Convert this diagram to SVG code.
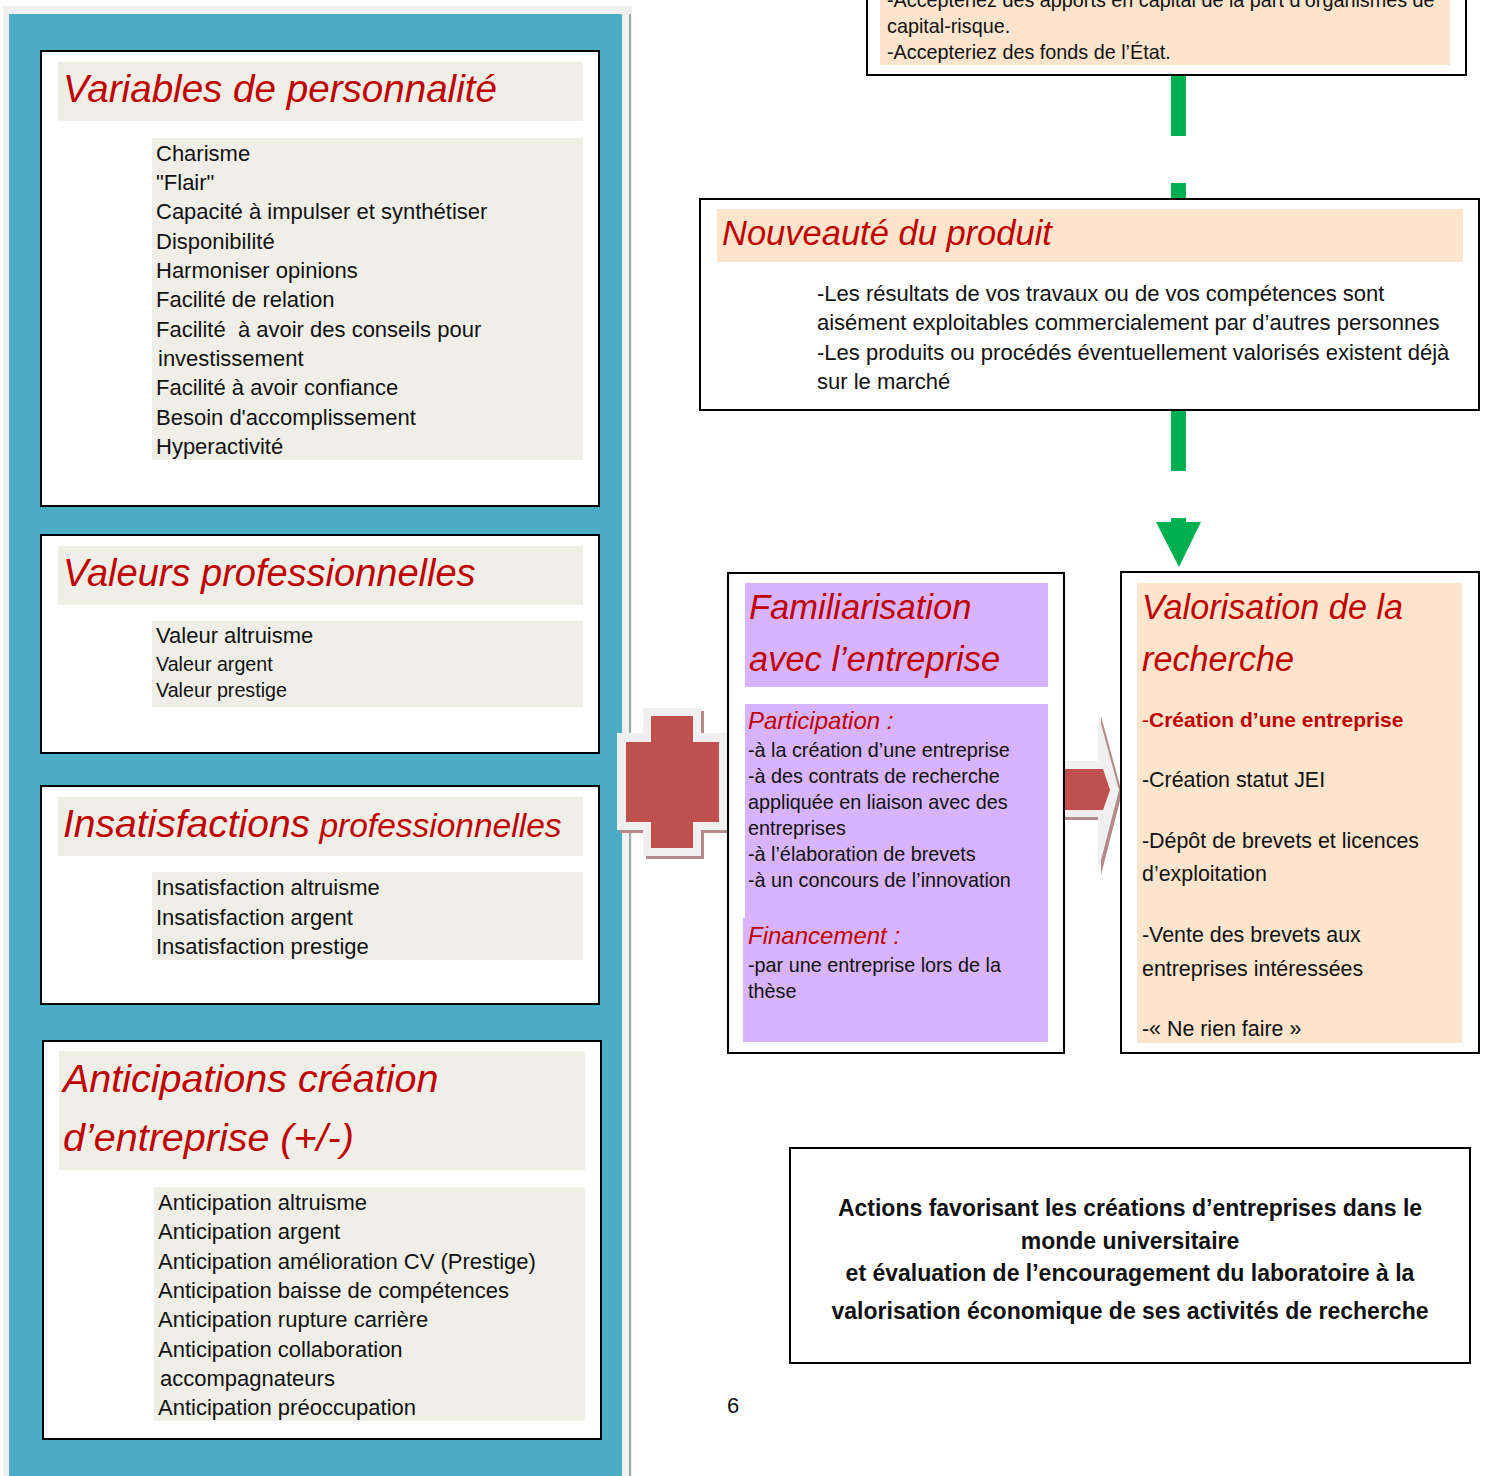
<svg xmlns="http://www.w3.org/2000/svg" width="1485" height="1476" viewBox="0 0 1485 1476">
<style>
.box{fill:#fff;stroke:#000;stroke-width:2}
.tbg{fill:#f0efe7}
.peach{fill:#fde4cc}
.purple{fill:#d7b4fd}
.ttl{font-family:"Liberation Sans",Arial,sans-serif;font-style:italic;fill:#c00000}
.txt{font-family:"Liberation Sans",Arial,sans-serif;fill:#111;font-size:22px}
.bold{font-family:"Liberation Sans",Arial,sans-serif;font-weight:bold;fill:#111;font-size:23px}
.green{fill:#00b050}
</style>
<rect width="1485" height="1476" fill="#fff"/>
<rect x="3" y="6" width="629" height="1470" fill="#f0f0f0"/>
<rect x="9" y="14" width="613" height="1462" fill="#4bacc6"/>
<rect x="629" y="14" width="2" height="1462" fill="#9aa6a8"/>

<g id="variables">
<rect class="box" x="41" y="51" width="558" height="455"/>
<rect class="tbg" x="58" y="62" width="525" height="59"/>
<text class="ttl" x="63" y="102" font-size="38.6">Variables de personnalité</text>
<rect class="tbg" x="152" y="138" width="431" height="322"/>
<text class="txt" x="156" y="161">Charisme</text>
<text class="txt" x="156" y="190">"Flair"</text>
<text class="txt" x="156" y="219">Capacité à impulser et synthétiser</text>
<text class="txt" x="156" y="249">Disponibilité</text>
<text class="txt" x="156" y="278">Harmoniser opinions</text>
<text class="txt" x="156" y="307">Facilité de relation</text>
<text class="txt" x="156" y="337" xml:space="preserve">Facilité  à avoir des conseils pour</text>
<text class="txt" x="158" y="366">investissement</text>
<text class="txt" x="156" y="395">Facilité à avoir confiance</text>
<text class="txt" x="156" y="425">Besoin d'accomplissement</text>
<text class="txt" x="156" y="454">Hyperactivité</text>
</g>

<g id="valeurs">
<rect class="box" x="41" y="535" width="558" height="218"/>
<rect class="tbg" x="58" y="546" width="525" height="59"/>
<text class="ttl" x="63" y="586" font-size="38">Valeurs professionnelles</text>
<rect class="tbg" x="152" y="621" width="431" height="86"/>
<text class="txt" x="156" y="643" font-size="22">Valeur altruisme</text>
<text class="txt" x="156" y="671" style="font-size:19.7px">Valeur argent</text>
<text class="txt" x="156" y="697" style="font-size:19.7px">Valeur prestige</text>
</g>

<g id="insatisfactions">
<rect class="box" x="41" y="786" width="558" height="218"/>
<rect class="tbg" x="58" y="797" width="525" height="59"/>
<text class="ttl" x="63" y="837"><tspan font-size="39">Insatisfactions</tspan><tspan font-size="33.5"> professionnelles</tspan></text>
<rect class="tbg" x="152" y="872" width="431" height="88"/>
<text class="txt" x="156" y="895">Insatisfaction altruisme</text>
<text class="txt" x="156" y="925">Insatisfaction argent</text>
<text class="txt" x="156" y="954">Insatisfaction prestige</text>
</g>

<g id="anticipations">
<rect class="box" x="43" y="1041" width="558" height="398"/>
<rect class="tbg" x="59" y="1051" width="526" height="119"/>
<text class="ttl" x="63" y="1092" font-size="39.5">Anticipations création</text>
<text class="ttl" x="63" y="1151" font-size="39.5">d’entreprise (+/-)</text>
<rect class="tbg" x="154" y="1187" width="431" height="234"/>
<text class="txt" x="158" y="1210">Anticipation altruisme</text>
<text class="txt" x="158" y="1239">Anticipation argent</text>
<text class="txt" x="158" y="1269">Anticipation amélioration CV (Prestige)</text>
<text class="txt" x="158" y="1298">Anticipation baisse de compétences</text>
<text class="txt" x="158" y="1327">Anticipation rupture carrière</text>
<text class="txt" x="158" y="1357">Anticipation collaboration</text>
<text class="txt" x="160" y="1386">accompagnateurs</text>
<text class="txt" x="158" y="1415">Anticipation préoccupation</text>
</g>

<g id="connectors">
<rect class="green" x="1171" y="75" width="15" height="61"/>
<rect class="green" x="1171" y="183" width="15" height="16"/>
<rect class="green" x="1171" y="410" width="15" height="61"/>
<path class="green" d="M1171 518 H1186 V522 H1201 L1179 567 L1156 522 H1171 Z"/>
<g id="plus">
<path d="M646 711 H704 V736 H730 V833 H704 V859 H646 V833 H620 V736 H646 Z" fill="#b48a8a"/>
<path d="M643 708 H701 V733 H727 V830 H701 V856 H643 V830 H617 V733 H643 Z" fill="#f0f0f0"/>
<path d="M651 716 H693 V742 H719 V822 H693 V848 H651 V822 H626 V742 H651 Z" fill="#c0504d"/>
</g>
<g id="arrow">
<path d="M1057 764 H1101 V716 L1122 793 L1101 875 V820 H1057 Z" fill="#b48a8a"/>
<path d="M1055 761 H1098 V713 L1119 790 L1098 872 V817 H1055 Z" fill="#f0f0f0"/>
<path d="M1063 769 H1103 L1110 790 L1103 810 H1063 Z" fill="#c0504d"/>
</g>
</g>

<g id="capital">
<rect class="box" x="867" y="-10" width="599" height="85"/>
<rect class="peach" x="880" y="-5" width="570" height="70"/>
<text class="txt" x="887" y="7" style="font-size:19.8px">-Accepteriez des apports en capital de la part d’organismes de</text>
<text class="txt" x="887" y="33" style="font-size:19.8px">capital-risque.</text>
<text class="txt" x="887" y="59" style="font-size:19.8px">-Accepteriez des fonds de l’État.</text>
</g>

<g id="nouveaute">
<rect class="box" x="700" y="199" width="779" height="211"/>
<rect class="peach" x="717" y="209" width="746" height="53"/>
<text class="ttl" x="722" y="245" font-size="34.5">Nouveauté du produit</text>
<text class="txt" x="817" y="301">-Les résultats de vos travaux ou de vos compétences sont</text>
<text class="txt" x="817" y="330">aisément exploitables commercialement par d’autres personnes</text>
<text class="txt" x="817" y="360">-Les produits ou procédés éventuellement valorisés existent déjà</text>
<text class="txt" x="817" y="389">sur le marché</text>
</g>

<g id="familiarisation">
<rect class="box" x="728" y="573" width="336" height="480"/>
<rect class="purple" x="745" y="583" width="303" height="104"/>
<text class="ttl" x="749" y="619" font-size="34.5">Familiarisation</text>
<text class="ttl" x="749" y="671" font-size="34.5">avec l’entreprise</text>
<rect class="purple" x="745" y="704" width="303" height="215"/>
<rect class="purple" x="743" y="918" width="305" height="124"/>
<text class="ttl" x="748" y="729" font-size="24">Participation :</text>
<text class="txt" x="748" y="757" style="font-size:19.8px">-à la création d’une entreprise</text>
<text class="txt" x="748" y="783" style="font-size:19.8px">-à des contrats de recherche</text>
<text class="txt" x="748" y="809" style="font-size:19.8px">appliquée en liaison avec des</text>
<text class="txt" x="748" y="835" style="font-size:19.8px">entreprises</text>
<text class="txt" x="748" y="861" style="font-size:19.8px">-à l’élaboration de brevets</text>
<text class="txt" x="748" y="887" style="font-size:19.8px">-à un concours de l’innovation</text>
<text class="ttl" x="748" y="944" font-size="24">Financement :</text>
<text class="txt" x="748" y="972" style="font-size:19.8px">-par une entreprise lors de la</text>
<text class="txt" x="748" y="998" style="font-size:19.8px">thèse</text>
</g>

<g id="valorisation">
<rect class="box" x="1121" y="572" width="358" height="481"/>
<rect class="peach" x="1137" y="583" width="325" height="460"/>
<text class="ttl" x="1142" y="619" font-size="34.2">Valorisation de la</text>
<text class="ttl" x="1142" y="671" font-size="34.2">recherche</text>
<text x="1142" y="727" font-family="Liberation Sans, Arial, sans-serif" font-size="21" fill="#c00000">-<tspan font-weight="bold">Création d’une entreprise</tspan></text>
<text class="txt" x="1142" y="787" style="font-size:21.4px">-Création statut JEI</text>
<text class="txt" x="1142" y="848" style="font-size:21.4px">-Dépôt de brevets et licences</text>
<text class="txt" x="1142" y="881" style="font-size:21.4px">d’exploitation</text>
<text class="txt" x="1142" y="942" style="font-size:21.4px">-Vente des brevets aux</text>
<text class="txt" x="1142" y="976" style="font-size:21.4px">entreprises intéressées</text>
<text class="txt" x="1142" y="1036" style="font-size:21.4px">-« Ne rien faire »</text>
</g>

<g id="legend">
<rect class="box" x="790" y="1148" width="680" height="215"/>
<text class="bold" x="1130" y="1216" text-anchor="middle">Actions favorisant les créations d’entreprises dans le</text>
<text class="bold" x="1130" y="1249" text-anchor="middle">monde universitaire</text>
<text class="bold" x="1130" y="1281" text-anchor="middle">et évaluation de l’encouragement du laboratoire à la</text>
<text class="bold" x="1130" y="1319" text-anchor="middle">valorisation économique de ses activités de recherche</text>
</g>

<text class="txt" x="727" y="1413">6</text>
</svg>
